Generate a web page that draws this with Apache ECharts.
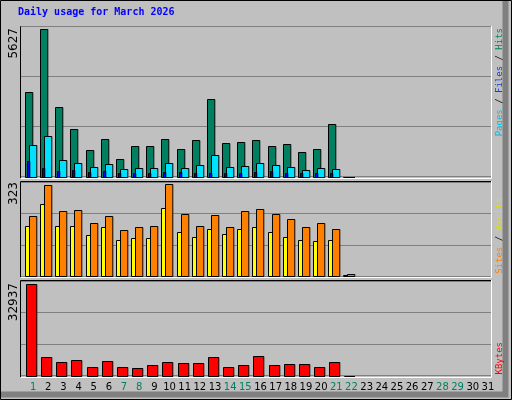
<!DOCTYPE html>
<html><head><meta charset="utf-8">
<script src="https://cdn.jsdelivr.net/npm/echarts@6/dist/echarts.min.js"></script>
<style>html,body{margin:0;padding:0;background:#c0c0c0}#c{width:512px;height:400px}</style>
</head><body><div id="c"></div>
<script>
const days = Array.from({length:31},(_,i)=>String(i+1));
const weekend = ['1','7','8','14','15','21','22','28','29'];
const hits   = [3219,5627,2646,1806,1005,1425,662,1158,1158,1425,1043,1387,2952,1273,1311,1387,1158,1235,929,1043,1997,0];
const files  = [1196,1540,624,509,357,471,280,319,319,509,319,433,815,357,395,509,433,357,242,319,280,0];
const pages  = [585,319,204,242,165,204,127,127,150,165,165,150,150,150,150,165,204,150,150,150,150,0];
const sites  = [211,320,228,232,186,211,162,172,176,323,218,176,214,172,228,235,218,200,172,186,165,7];
const visits = [176,253,176,176,144,172,126,133,133,239,154,137,165,147,165,172,154,137,126,123,126,4];
const kbytes = [32937,6605,4810,5530,3010,5170,3010,2650,3730,4810,4450,4450,6605,3010,3730,6965,3730,4090,4090,3010,4810,0];
const maxHits = 5627, maxSites = 323, maxK = 32937;

const L = 21, W = 470;
const panels = [{top:26.7,h:150},{top:181.8,h:94.5},{top:281.2,h:94.5}];
const axMax = [maxHits*150/147.4, maxSites*94.5/92, maxK*94.5/91.3];

function rend(a,b,color){
  return function(params, api){
    const p = api.coord([api.value(0), api.value(1)]);
    const z = api.coord([api.value(0), 0]);
    return {type:'rect', shape:{x:Math.round(p[0]+a)+0.5, y:Math.round(p[1])+0.5, width:b-a, height:Math.round(z[1])-Math.round(p[1])},
      style:{fill:color, stroke:'#000', lineWidth:1}};
  };
}
function ser(data, gi, a, b, color){
  return {type:'custom', xAxisIndex:gi, yAxisIndex:gi, renderItem:rend(a,b,color),
    data:data.map((v,i)=>[i,v]), clip:false, silent:true};
}
const grid = panels.map(p=>({left:L, width:W, top:p.top, height:p.h}));
const xAxis = panels.map((p,i)=>({type:'category', gridIndex:i, data:days, boundaryGap:true,
  axisLine:{show:false}, axisTick:{show:false},
  axisLabel: i<2 ? {show:false} : {show:true, interval:0, margin:7, fontFamily:'DejaVu Sans', fontSize:10,
    formatter:v=>'{'+(weekend.includes(v)?'g':'k')+'|'+v+'}',
    rich:{g:{color:'#008060',padding:[0,0,0,9],fontFamily:'DejaVu Sans',fontSize:10},k:{color:'#000',padding:[0,0,0,9],fontFamily:'DejaVu Sans',fontSize:10}}}
}));
const yAxis = panels.map((p,i)=>({type:'value', gridIndex:i, min:0, max:axMax[i], interval:axMax[i]/3,
  axisLine:{show:false}, axisTick:{show:false}, axisLabel:{show:false},
  splitLine:{show:true, lineStyle:{color:'#808080', width:1}}}));

function frame(p){
  const y0 = Math.round(p.top)-1, y1 = Math.round(p.top+p.h)+1;
  return [
    {type:'rect', shape:{x:L-1, y:y0, width:W+1, height:y1-y0}, style:{fill:'#c0c0c0'}, z:-10},
    {type:'polyline', shape:{points:[[L-0.5,y1],[L-0.5,y0+0.5],[L+W,y0+0.5]]}, style:{stroke:'#000',lineWidth:1,fill:null}, z:-5},
    {type:'polyline', shape:{points:[[L,y1+0.5],[L+W+0.5,y1+0.5],[L+W+0.5,y0]]}, style:{stroke:'#fff',lineWidth:1,fill:null}, z:-5}
  ];
}
const font = '9px "DejaVu Sans Mono"';
function vtext(x,y,rich,text){
  return {type:'text', x:x, y:y, rotation:Math.PI/2, z:10,
    style:{text:text, rich:rich, align:'right', verticalAlign:'middle', font:font}};
}
const g = [
  {type:'rect', shape:{x:0,y:0,width:512,height:400}, style:{fill:'#c0c0c0'}, z:-20},
  {type:'polyline', shape:{points:[[505.5,0],[505.5,394.5],[0,394.5]]}, style:{stroke:'#808080',lineWidth:6,fill:null}, z:-19},
  {type:'rect', shape:{x:0.5,y:0.5,width:511,height:399}, style:{fill:null,stroke:'#000',lineWidth:1}, z:-18},
  {type:'text', x:18, y:12, z:10, style:{text:'Daily usage for March 2026', fill:'#0000ff', font:'bold 10px "DejaVu Sans Mono"', verticalAlign:'middle'}},
  ...frame(panels[0]), ...frame(panels[1]), ...frame(panels[2]),
  vtext(500,28,{a:{fill:'#00c0e0'},b:{fill:'#0040ff'},c:{fill:'#008060'},s:{fill:'#000'}},'{a|Pages}{s| / }{b|Files}{s| / }{c|Hits}'),
  vtext(500,198,{a:{fill:'#ff8000'},b:{fill:'#e0e000'},s:{fill:'#000'}},'{a|Sites}{s| / }{b|Visits}'),
  vtext(500,342,{a:{fill:'#ff0000'}},'{a|KBytes}'),
  {type:'text', x:14, y:28, rotation:Math.PI/2, z:10, style:{text:String(maxHits), fill:'#000', font:'12px "DejaVu Sans"', align:'right', verticalAlign:'middle'}},
  {type:'text', x:14, y:182, rotation:Math.PI/2, z:10, style:{text:String(maxSites), fill:'#000', font:'12px "DejaVu Sans"', align:'right', verticalAlign:'middle'}},
  {type:'text', x:14, y:283, rotation:Math.PI/2, z:10, style:{text:String(maxK), fill:'#000', font:'12px "DejaVu Sans"', align:'right', verticalAlign:'middle'}}
];
const chart = echarts.init(document.getElementById('c'), null, {renderer:'canvas'});
chart.setOption({
  animation:false, backgroundColor:'transparent',
  grid, xAxis, yAxis, graphic:g,
  series:[
    ser(hits,0,-3.6,3.7,'#008060'),
    ser(files,0,0.4,7.7,'#00e0ff'),
    ser(pages,0,-1.6,0.7,'#0000ff'),
    ser(visits,1,-3.6,0.7,'#ffff00'),
    ser(sites,1,0.4,7.7,'#ff8000'),
    ser(kbytes,2,-2.6,7.7,'#ff0000')
  ]
});
</script></body></html>
